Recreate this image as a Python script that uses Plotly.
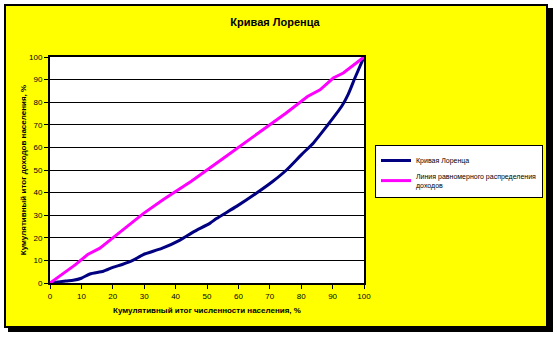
import plotly.graph_objects as go

lorenz_x = [0, 5, 7.4, 10, 12.7, 17, 20, 23, 26.5, 29.7, 35.6, 41.4, 45.7, 51, 53, 59.4, 65.8, 71, 75.4, 80.1, 83.9, 88.1, 92.9, 95, 97.1, 100]
lorenz_y = [0, 0.9, 1.2, 2.1, 4.0, 5.2, 6.9, 8.2, 10.1, 12.6, 15.3, 19.0, 22.6, 26.5, 28.5, 33.9, 39.8, 45.0, 50.1, 56.8, 62.0, 69.3, 78.2, 83.6, 90.7, 100]

equal_x = [0, 2, 4.2, 8, 12, 15.9, 20.2, 26, 29.7, 36.1, 45, 55, 65, 75, 82, 86, 90.2, 93.4, 100]
equal_y = [0, 2, 3.9, 8, 12.6, 15.4, 20.2, 26.8, 30.7, 36.9, 45, 55, 65, 75, 82.5, 85.5, 90.7, 92.9, 100]

ticks = list(range(0, 101, 10))

title_text = "Кривая Лоренца"
x_title = "Кумулятивный итог численности населения, %"
y_title = "Кумулятивный итог доходов населения, %"
name1 = "Кривая Лоренца"
name2 = "Линия равномерного распределения<br>доходов"

W, H = 557, 337
L, R, T, B = 50, 193, 57, 54
pw, ph = W - L - R, H - T - B

def px(x):
    return (x - L) / pw

def py(y):
    return (H - B - y) / ph

fig = go.Figure()
fig.add_trace(go.Scatter(x=lorenz_x, y=lorenz_y, mode="lines", name=name1,
                         line=dict(color="#000080", width=3, shape="spline", smoothing=0.6)))
fig.add_trace(go.Scatter(x=equal_x, y=equal_y, mode="lines", name=name2,
                         line=dict(color="#FF00FF", width=3)))

shapes = [
    dict(type="rect", xref="paper", yref="paper", x0=px(8), x1=px(553), y0=py(8), y1=py(332),
         fillcolor="black", line=dict(width=0), layer="below"),
    dict(type="rect", xref="paper", yref="paper", x0=px(5), x1=px(547), y0=py(5), y1=py(327),
         fillcolor="#FFFF00", line=dict(color="black", width=2), layer="below"),
    dict(type="rect", xref="paper", yref="paper", x0=0, x1=1, y0=0, y1=1,
         fillcolor="white", line=dict(width=0), layer="below"),
]

font = "Liberation Sans, Arial, sans-serif"
fig.update_layout(
    width=W, height=H,
    margin=dict(l=L, r=R, t=T, b=B, autoexpand=False),
    paper_bgcolor="white",
    plot_bgcolor="white",
    shapes=shapes,
    font=dict(family=font, size=8, color="black"),
    title=dict(text="<b>" + title_text + "</b>", x=275 / W, xanchor="center",
               y=1 - 22 / H, yanchor="middle", font=dict(size=11, family=font)),
    showlegend=True,
    legend=dict(x=px(375), xanchor="left", y=py(145), yanchor="top",
                bgcolor="white", bordercolor="black", borderwidth=1,
                font=dict(size=7, family=font), tracegroupgap=8),
    xaxis=dict(range=[0, 100], tickvals=ticks, showgrid=False, zeroline=False,
               showline=True, linecolor="black", linewidth=2, mirror=True,
               ticks="outside", ticklen=4, tickcolor="black",
               title=dict(text="<b>" + x_title + "</b>", standoff=8, font=dict(size=8))),
    yaxis=dict(range=[0, 100], tickvals=ticks, showgrid=True, gridcolor="black", gridwidth=1,
               zeroline=False, showline=True, linecolor="black", linewidth=2, mirror=True,
               ticks="outside", ticklen=4, tickcolor="black",
               title=dict(text="<b>" + y_title + "</b>", standoff=1, font=dict(size=8))),
)

fig.write_html("out.html")
